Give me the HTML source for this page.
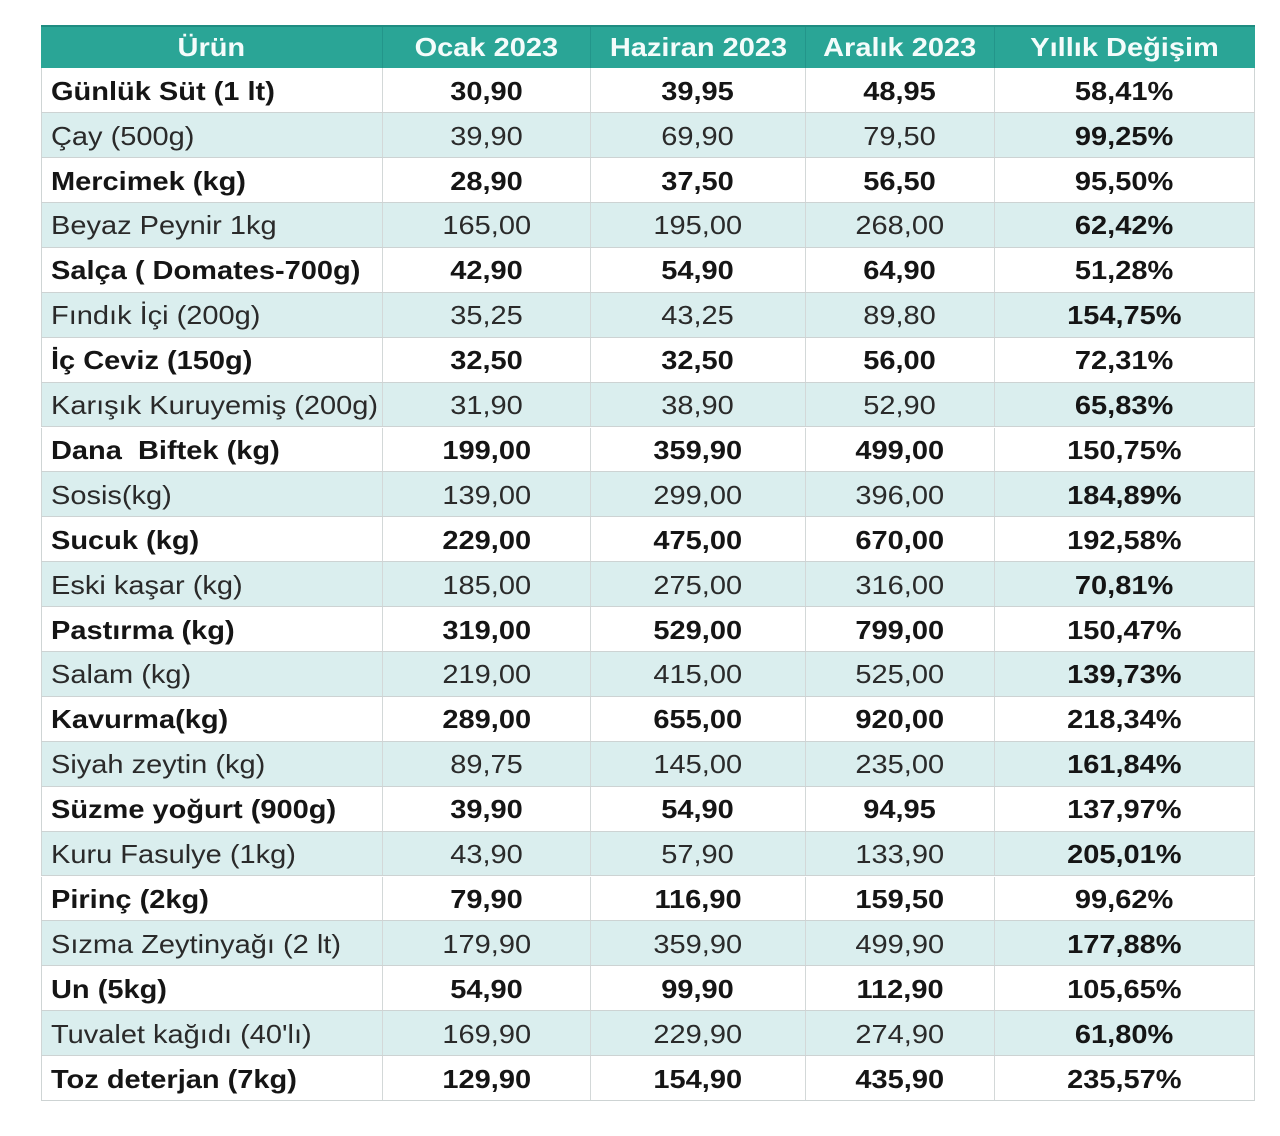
<!DOCTYPE html>
<html>
<head>
<meta charset="utf-8">
<style>
  html,body{margin:0;padding:0;background:#fff;}
  body{width:1280px;height:1136px;position:relative;overflow:hidden;font-family:"Liberation Sans",Arial,sans-serif;}
  .r{position:absolute;left:41px;width:1214px;height:44.9px;display:flex;box-sizing:border-box;border-bottom:1px solid #cdd3d3;}
  .r.alt{background:#daeeee;}
  .c{box-sizing:border-box;height:100%;border-right:1px solid #d3d8d8;display:flex;align-items:center;justify-content:center;font-size:26px;color:#1c1c1c;white-space:nowrap;padding-top:2px;}
  .c:last-child{border-right:none;}
  .c span{display:inline-block;transform:scaleX(1.115);transform-origin:center;}
  .c.l{justify-content:flex-start;padding-left:9px;}
  .c.l span{transform-origin:left center;}
  .w1{width:342px;border-left:1px solid #cfd5d5;}
  .w2{width:208px;}
  .w3{width:215px;}
  .w4{width:189px;}
  .w5{width:260px;border-right:1px solid #cfd5d5 !important;}
  .b .c{font-weight:bold;color:#151515;}
  .alt .c{color:#2a2a2a;}
  .alt .c.w5{font-weight:bold;color:#151515;}
  .hd{position:absolute;left:41px;top:25px;width:1214px;height:43.3px;display:flex;background:#2aa596;border-top:2px solid #1f8c81;box-sizing:border-box;}
  .hd .c{color:#f4fcfb;font-weight:bold;border-right:1px solid #23958a;border-left:none;padding-top:0;}
  .hd .c:last-child{border-right:none;}
</style>
</head>
<body>
<div class="hd">
  <div class="c w1"><span>Ürün</span></div>
  <div class="c w2"><span>Ocak 2023</span></div>
  <div class="c w3"><span>Haziran 2023</span></div>
  <div class="c w4"><span>Aralık 2023</span></div>
  <div class="c w5" style="border-right:none !important"><span>Yıllık Değişim</span></div>
</div>

<div class="r b" style="top:68.3px"><div class="c l w1"><span>Günlük Süt (1 lt)</span></div><div class="c w2"><span>30,90</span></div><div class="c w3"><span>39,95</span></div><div class="c w4"><span>48,95</span></div><div class="c w5"><span>58,41%</span></div></div>
<div class="r alt" style="top:113.2px"><div class="c l w1"><span>Çay (500g)</span></div><div class="c w2"><span>39,90</span></div><div class="c w3"><span>69,90</span></div><div class="c w4"><span>79,50</span></div><div class="c w5"><span>99,25%</span></div></div>
<div class="r b" style="top:158.1px"><div class="c l w1"><span>Mercimek (kg)</span></div><div class="c w2"><span>28,90</span></div><div class="c w3"><span>37,50</span></div><div class="c w4"><span>56,50</span></div><div class="c w5"><span>95,50%</span></div></div>
<div class="r alt" style="top:203.0px"><div class="c l w1"><span>Beyaz Peynir 1kg</span></div><div class="c w2"><span>165,00</span></div><div class="c w3"><span>195,00</span></div><div class="c w4"><span>268,00</span></div><div class="c w5"><span>62,42%</span></div></div>
<div class="r b" style="top:247.9px"><div class="c l w1"><span>Salça ( Domates-700g)</span></div><div class="c w2"><span>42,90</span></div><div class="c w3"><span>54,90</span></div><div class="c w4"><span>64,90</span></div><div class="c w5"><span>51,28%</span></div></div>
<div class="r alt" style="top:292.8px"><div class="c l w1"><span>Fındık İçi (200g)</span></div><div class="c w2"><span>35,25</span></div><div class="c w3"><span>43,25</span></div><div class="c w4"><span>89,80</span></div><div class="c w5"><span>154,75%</span></div></div>
<div class="r b" style="top:337.7px"><div class="c l w1"><span>İç Ceviz (150g)</span></div><div class="c w2"><span>32,50</span></div><div class="c w3"><span>32,50</span></div><div class="c w4"><span>56,00</span></div><div class="c w5"><span>72,31%</span></div></div>
<div class="r alt" style="top:382.6px"><div class="c l w1"><span>Karışık Kuruyemiş (200g)</span></div><div class="c w2"><span>31,90</span></div><div class="c w3"><span>38,90</span></div><div class="c w4"><span>52,90</span></div><div class="c w5"><span>65,83%</span></div></div>
<div class="r b" style="top:427.5px"><div class="c l w1"><span>Dana&nbsp; Biftek (kg)</span></div><div class="c w2"><span>199,00</span></div><div class="c w3"><span>359,90</span></div><div class="c w4"><span>499,00</span></div><div class="c w5"><span>150,75%</span></div></div>
<div class="r alt" style="top:472.4px"><div class="c l w1"><span>Sosis(kg)</span></div><div class="c w2"><span>139,00</span></div><div class="c w3"><span>299,00</span></div><div class="c w4"><span>396,00</span></div><div class="c w5"><span>184,89%</span></div></div>
<div class="r b" style="top:517.3px"><div class="c l w1"><span>Sucuk (kg)</span></div><div class="c w2"><span>229,00</span></div><div class="c w3"><span>475,00</span></div><div class="c w4"><span>670,00</span></div><div class="c w5"><span>192,58%</span></div></div>
<div class="r alt" style="top:562.2px"><div class="c l w1"><span>Eski kaşar (kg)</span></div><div class="c w2"><span>185,00</span></div><div class="c w3"><span>275,00</span></div><div class="c w4"><span>316,00</span></div><div class="c w5"><span>70,81%</span></div></div>
<div class="r b" style="top:607.1px"><div class="c l w1"><span>Pastırma (kg)</span></div><div class="c w2"><span>319,00</span></div><div class="c w3"><span>529,00</span></div><div class="c w4"><span>799,00</span></div><div class="c w5"><span>150,47%</span></div></div>
<div class="r alt" style="top:652.0px"><div class="c l w1"><span>Salam (kg)</span></div><div class="c w2"><span>219,00</span></div><div class="c w3"><span>415,00</span></div><div class="c w4"><span>525,00</span></div><div class="c w5"><span>139,73%</span></div></div>
<div class="r b" style="top:696.9px"><div class="c l w1"><span>Kavurma(kg)</span></div><div class="c w2"><span>289,00</span></div><div class="c w3"><span>655,00</span></div><div class="c w4"><span>920,00</span></div><div class="c w5"><span>218,34%</span></div></div>
<div class="r alt" style="top:741.8px"><div class="c l w1"><span>Siyah zeytin (kg)</span></div><div class="c w2"><span>89,75</span></div><div class="c w3"><span>145,00</span></div><div class="c w4"><span>235,00</span></div><div class="c w5"><span>161,84%</span></div></div>
<div class="r b" style="top:786.7px"><div class="c l w1"><span>Süzme yoğurt (900g)</span></div><div class="c w2"><span>39,90</span></div><div class="c w3"><span>54,90</span></div><div class="c w4"><span>94,95</span></div><div class="c w5"><span>137,97%</span></div></div>
<div class="r alt" style="top:831.6px"><div class="c l w1"><span>Kuru Fasulye (1kg)</span></div><div class="c w2"><span>43,90</span></div><div class="c w3"><span>57,90</span></div><div class="c w4"><span>133,90</span></div><div class="c w5"><span>205,01%</span></div></div>
<div class="r b" style="top:876.5px"><div class="c l w1"><span>Pirinç (2kg)</span></div><div class="c w2"><span>79,90</span></div><div class="c w3"><span>116,90</span></div><div class="c w4"><span>159,50</span></div><div class="c w5"><span>99,62%</span></div></div>
<div class="r alt" style="top:921.4px"><div class="c l w1"><span>Sızma Zeytinyağı (2 lt)</span></div><div class="c w2"><span>179,90</span></div><div class="c w3"><span>359,90</span></div><div class="c w4"><span>499,90</span></div><div class="c w5"><span>177,88%</span></div></div>
<div class="r b" style="top:966.3px"><div class="c l w1"><span>Un (5kg)</span></div><div class="c w2"><span>54,90</span></div><div class="c w3"><span>99,90</span></div><div class="c w4"><span>112,90</span></div><div class="c w5"><span>105,65%</span></div></div>
<div class="r alt" style="top:1011.2px"><div class="c l w1"><span>Tuvalet kağıdı (40'lı)</span></div><div class="c w2"><span>169,90</span></div><div class="c w3"><span>229,90</span></div><div class="c w4"><span>274,90</span></div><div class="c w5"><span>61,80%</span></div></div>
<div class="r b" style="top:1056.1px"><div class="c l w1"><span>Toz deterjan (7kg)</span></div><div class="c w2"><span>129,90</span></div><div class="c w3"><span>154,90</span></div><div class="c w4"><span>435,90</span></div><div class="c w5"><span>235,57%</span></div></div>
</body>
</html>
